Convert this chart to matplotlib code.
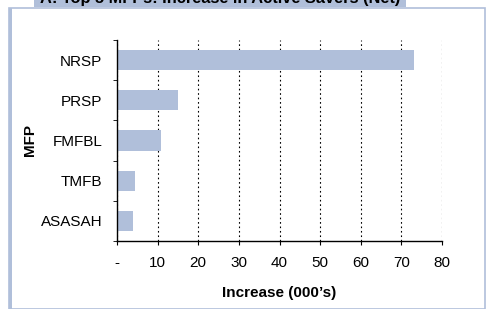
import matplotlib
matplotlib.use("Agg")
import matplotlib.pyplot as plt
from matplotlib.patches import Rectangle

plt.rcParams['font.family'] = ['Liberation Sans', 'DejaVu Sans']

# data
mfps = ['ASASAH', 'TMFB', 'FMFBL', 'PRSP', 'NRSP']
increase = [3.9, 4.4, 10.8, 14.9, 73.0]
xticks = [0, 10, 20, 30, 40, 50, 60, 70, 80]
xticklabels = ['-', '10', '20', '30', '40', '50', '60', '70', '80']

W, H = 488, 309
fig = plt.figure(figsize=(W / 100, H / 100), dpi=100)

band = '#b0bfda'
# panel frame and title band (behind the axes)
fig.patches.append(Rectangle((9 / W, 0), 476 / W, 1 - 8 / H, transform=fig.transFigure,
                             facecolor='white', edgecolor=band, linewidth=1.2, zorder=-2))
fig.patches.append(Rectangle((9 / W, 0), 2.5 / W, 1 - 8 / H, transform=fig.transFigure,
                             facecolor=band, edgecolor='none', zorder=-1))
fig.patches.append(Rectangle((34 / W, 1 - 7 / H), 372 / W, 7 / H, transform=fig.transFigure,
                             facecolor=band, edgecolor='none', zorder=-1))
fig.text(220 / W, 1 - 3.5 / H, 'A: Top 5 MFPs: Increase in Active Savers (Net)',
         ha='center', va='baseline', fontsize=11.8, fontweight='bold', color='black')

ax = fig.add_axes([117 / W, 1 - 241 / H, 325 / W, 201 / H])
ax.patch.set_alpha(0)
ax.barh(range(len(mfps)), increase, height=0.5, color=band, zorder=2)
ax.set_xlim(0, 80)
ax.set_ylim(-0.5, len(mfps) - 0.5)

ax.set_xticks(xticks)
ax.set_xticklabels(xticklabels, fontsize=11)
ax.set_yticks(range(len(mfps)))
ax.set_yticklabels(mfps, fontsize=11)
ax.set_yticks([i - 0.5 for i in range(len(mfps) + 1)], minor=True)
ax.tick_params(axis='y', which='major', length=0, pad=10.5)
ax.tick_params(axis='y', which='minor', length=3, direction='out')
ax.tick_params(axis='x', length=3, direction='out', pad=7.5)

ax.grid(axis='x', linestyle=(0, (1.5, 2.5)), color='black', linewidth=0.8, zorder=1)
for s in ['top', 'right']:
    ax.spines[s].set_visible(False)
for s in ['left', 'bottom']:
    ax.spines[s].set_linewidth(1.0)

ax.set_xlabel("Increase (000’s)", fontsize=11, fontweight='bold')
ax.xaxis.set_label_coords(0.5, -0.222)
ax.xaxis.label.set_va('top')
ax.set_ylabel('MFP', fontsize=11, fontweight='bold')
ax.yaxis.set_label_coords(-0.245, 0.5)

fig.savefig('out.png', dpi=100)
